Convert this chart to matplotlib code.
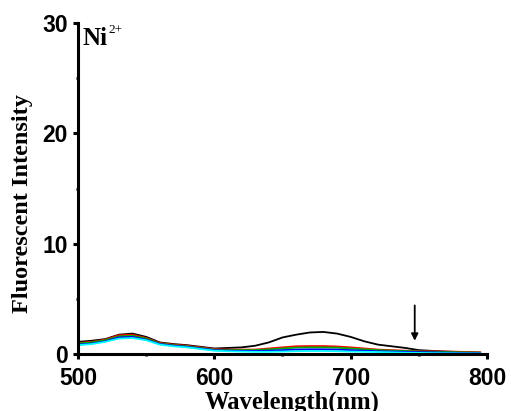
import matplotlib
matplotlib.use("Agg")
import matplotlib.pyplot as plt

# wavelength grid (nm) and intensity curves
wavelength = [500, 510, 520, 530, 540, 550, 560, 570, 580, 590, 600, 610, 620, 630, 640,
              650, 660, 670, 680, 690, 700, 710, 720, 730, 740, 750, 760, 770, 780, 795]
black = [1.1, 1.2, 1.35, 1.75, 1.85, 1.55, 1.05, 0.9, 0.8, 0.65, 0.5, 0.55, 0.6, 0.75, 1.05,
         1.5, 1.75, 1.95, 2.0, 1.85, 1.55, 1.15, 0.85, 0.7, 0.55, 0.35, 0.28, 0.22, 0.18, 0.12]
red = [1.0, 1.1, 1.3, 1.7, 1.75, 1.45, 1.0, 0.85, 0.75, 0.6, 0.45, 0.4, 0.4, 0.4, 0.5,
       0.6, 0.7, 0.72, 0.72, 0.68, 0.6, 0.5, 0.4, 0.35, 0.3, 0.25, 0.25, 0.22, 0.2, 0.15]
green = [0.95, 1.05, 1.25, 1.6, 1.65, 1.4, 0.95, 0.8, 0.7, 0.55, 0.4, 0.35, 0.35, 0.35, 0.42,
         0.5, 0.58, 0.6, 0.6, 0.57, 0.5, 0.42, 0.35, 0.3, 0.27, 0.22, 0.2, 0.18, 0.15, 0.12]
blue = [0.85, 0.95, 1.15, 1.5, 1.55, 1.3, 0.9, 0.75, 0.65, 0.5, 0.35, 0.3, 0.28, 0.28, 0.3,
        0.35, 0.4, 0.42, 0.42, 0.4, 0.35, 0.3, 0.25, 0.22, 0.2, 0.17, 0.15, 0.12, 0.1, 0.08]
cyan = [0.8, 0.9, 1.1, 1.4, 1.45, 1.25, 0.85, 0.7, 0.6, 0.45, 0.3, 0.25, 0.22, 0.2, 0.2,
        0.22, 0.25, 0.27, 0.27, 0.25, 0.22, 0.2, 0.18, 0.15, 0.12, 0.1, 0.08, 0.07, 0.06, 0.05]

series = [(black, "black"), (red, "red"), (green, "#00b000"), (blue, "blue"), (cyan, "cyan")]

x_ticks = [500, 600, 700, 800]
y_ticks = [0, 10, 20, 30]
arrow_x = 747
arrow_y = (4.4, 1.2)

fig = plt.figure(figsize=(5.11, 4.11), dpi=100)
ax = fig.add_axes([0.1526, 0.1387, 0.8004, 0.8053])

for vals, col in series:
    ax.plot(wavelength, vals, color=col, lw=1.3)

ax.annotate("", xy=(arrow_x, arrow_y[1]), xytext=(arrow_x, arrow_y[0]),
            arrowprops=dict(arrowstyle="-|>", color="black", lw=1.3,
                            mutation_scale=10, shrinkA=0, shrinkB=0))

ax.set_xlim(500, 800)
ax.set_ylim(0, 30)
ax.set_xticks(x_ticks)
ax.set_xticks([550, 650, 750], minor=True)
ax.set_yticks(y_ticks)
ax.set_yticks([5, 15, 25], minor=True)

for side in ["top", "right"]:
    ax.spines[side].set_visible(False)
for side in ["left", "bottom"]:
    ax.spines[side].set_linewidth(2.2)

ax.tick_params(which="major", direction="out", length=3.5, width=2.2, pad=4)
ax.tick_params(which="minor", direction="out", length=1.5, width=2)
ax.tick_params(axis="x", which="major", pad=6)
for lab in ax.get_xticklabels() + ax.get_yticklabels():
    lab.set_fontfamily("Liberation Sans")
    lab.set_fontweight("bold")
    lab.set_fontsize(16.5)

# x label sits partly below the figure edge, as in the original
ax.set_xlabel("Wavelength(nm)", fontfamily="Liberation Serif", fontweight="bold",
              fontsize=17.7)
ax.xaxis.set_label_coords(0.523, -0.11, transform=ax.transAxes)
ax.xaxis.label.set_va("top")
ax.set_ylabel("Fluorescent Intensity", fontfamily="Liberation Serif", fontweight="bold",
              fontsize=17.5)
ax.yaxis.set_label_coords(-0.110, 0.453, transform=ax.transAxes)

ax.text(503, 29.6, r"Ni", fontfamily="Liberation Serif", fontweight="bold",
        fontsize=18, va="top", ha="left")
ax.text(522, 29.95, "2+", fontfamily="Liberation Serif", fontsize=9.5, va="top", ha="left")

fig.savefig("out.png", dpi=100)
